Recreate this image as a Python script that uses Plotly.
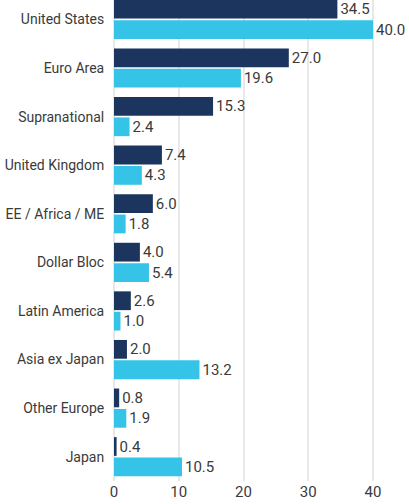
import plotly.graph_objects as go

categories = ["United States", "Euro Area", "Supranational", "United Kingdom",
              "EE / Africa / ME", "Dollar Bloc", "Latin America", "Asia ex Japan",
              "Other Europe", "Japan"]
series_a = [34.5, 27.0, 15.3, 7.4, 6.0, 4.0, 2.6, 2.0, 0.8, 0.4]
series_b = [40.0, 19.6, 2.4, 4.3, 1.8, 5.4, 1.0, 13.2, 1.9, 10.5]
tick_vals = [0, 10, 20, 30, 40]

FONT = "Roboto, Liberation Sans, sans-serif"
TEXT_COLOR = "#3a3a3a"
FS = 15

fig = go.Figure()
fig.add_trace(go.Bar(
    y=categories, x=series_a, orientation="h", name="A",
    marker=dict(color="#1c355e", line=dict(width=0)),
    text=[f"{v:.1f}" for v in series_a], textposition="outside",
    textfont=dict(family=FONT, size=FS, color=TEXT_COLOR), cliponaxis=False,
    hoverinfo="skip",
))
fig.add_trace(go.Bar(
    y=categories, x=series_b, orientation="h", name="B",
    marker=dict(color="#35c4e8", line=dict(width=0)),
    text=[f"{v:.1f}" for v in series_b], textposition="outside",
    textfont=dict(family=FONT, size=FS, color=TEXT_COLOR), cliponaxis=False,
    hoverinfo="skip",
))

fig.update_layout(
    width=409, height=504,
    margin=dict(l=114, r=0, t=0, b=23),
    barmode="group", bargap=0.16, bargroupgap=0.08,
    showlegend=False,
    plot_bgcolor="white", paper_bgcolor="white",
    font=dict(family=FONT, size=FS, color=TEXT_COLOR),
)
fig.update_xaxes(
    range=[0, 45.56], tickvals=tick_vals, ticktext=[str(v) for v in tick_vals],
    showgrid=True, gridcolor="#e8e8e8", gridwidth=2,
    zeroline=True, zerolinecolor="#e8e8e8", zerolinewidth=2,
    showline=False, ticks="", automargin=False,
    tickfont=dict(family=FONT, size=FS, color=TEXT_COLOR),
)
fig.update_yaxes(
    categoryorder="array", categoryarray=categories,
    range=[9.5, -0.4], showgrid=False, zeroline=False, showline=False,
    ticks="outside", ticklen=6, tickcolor="rgba(0,0,0,0)", automargin=False,
    tickfont=dict(family=FONT, size=14, color=TEXT_COLOR),
)

fig.write_html(
    "out.html",
    config={"displayModeBar": False},
    post_script="document.body.style.margin='0';document.body.style.padding='0';",
)
